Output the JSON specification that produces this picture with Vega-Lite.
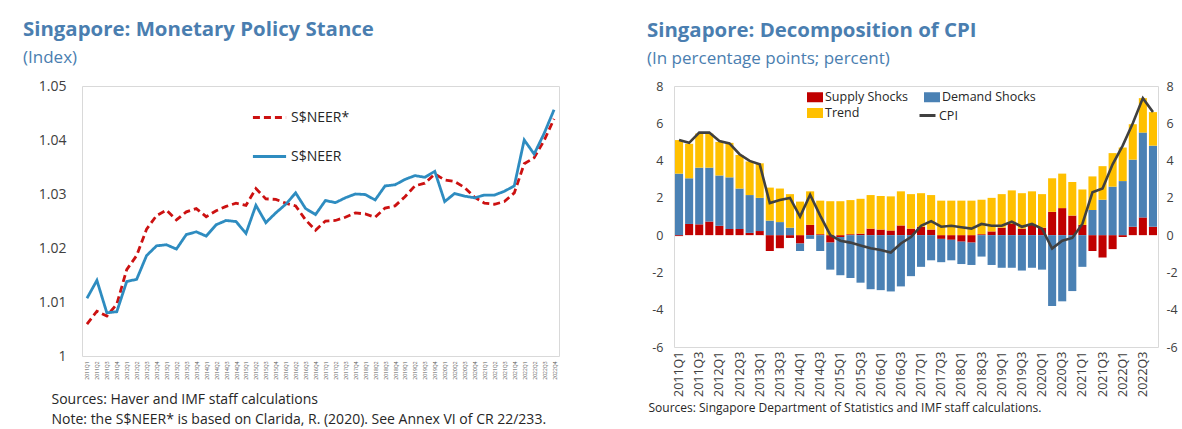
{
  "$schema": "https://vega.github.io/schema/vega-lite/v6.json",
  "background": "white",
  "padding": {"left": 22, "top": 19, "right": 0, "bottom": 0},
  "spacing": 85,
  "resolve": {
    "scale": {"color": "independent", "strokeDash": "independent", "stroke": "independent"},
    "legend": {"color": "independent", "strokeDash": "independent", "stroke": "independent"}
  },
  "config": {
    "font": "Open Sans",
    "view": {"stroke": "#d9d9d9", "strokeWidth": 1},
    "axis": {"grid": false, "domain": false, "ticks": false, "labelColor": "#404040", "labelFont": "Open Sans"},
    "title": {"anchor": "start", "frame": "group", "color": "#4a7eb0", "subtitleColor": "#4a7eb0", "font": "Open Sans", "subtitleFont": "Open Sans", "fontWeight": "bold", "fontSize": 20.4, "subtitleFontSize": 17, "subtitlePadding": 10, "offset": 13}
  },
  "datasets": {
    "neer": [
      {"q":"2011Q1","s":"S$NEER*","v":1.0059},{"q":"2011Q2","s":"S$NEER*","v":1.0083},{"q":"2011Q3","s":"S$NEER*","v":1.0074},{"q":"2011Q4","s":"S$NEER*","v":1.0096},
      {"q":"2012Q1","s":"S$NEER*","v":1.0160},{"q":"2012Q2","s":"S$NEER*","v":1.0186},{"q":"2012Q3","s":"S$NEER*","v":1.0235},{"q":"2012Q4","s":"S$NEER*","v":1.0260},
      {"q":"2013Q1","s":"S$NEER*","v":1.0270},{"q":"2013Q2","s":"S$NEER*","v":1.0252},{"q":"2013Q3","s":"S$NEER*","v":1.0267},{"q":"2013Q4","s":"S$NEER*","v":1.0273},
      {"q":"2014Q1","s":"S$NEER*","v":1.0258},{"q":"2014Q2","s":"S$NEER*","v":1.0269},{"q":"2014Q3","s":"S$NEER*","v":1.0277},{"q":"2014Q4","s":"S$NEER*","v":1.0283},
      {"q":"2015Q1","s":"S$NEER*","v":1.0279},{"q":"2015Q2","s":"S$NEER*","v":1.0310},{"q":"2015Q3","s":"S$NEER*","v":1.0291},{"q":"2015Q4","s":"S$NEER*","v":1.0290},
      {"q":"2016Q1","s":"S$NEER*","v":1.0283},{"q":"2016Q2","s":"S$NEER*","v":1.0278},{"q":"2016Q3","s":"S$NEER*","v":1.0252},{"q":"2016Q4","s":"S$NEER*","v":1.0233},
      {"q":"2017Q1","s":"S$NEER*","v":1.0250},{"q":"2017Q2","s":"S$NEER*","v":1.0251},{"q":"2017Q3","s":"S$NEER*","v":1.0257},{"q":"2017Q4","s":"S$NEER*","v":1.0265},
      {"q":"2018Q1","s":"S$NEER*","v":1.0263},{"q":"2018Q2","s":"S$NEER*","v":1.0257},{"q":"2018Q3","s":"S$NEER*","v":1.0274},{"q":"2018Q4","s":"S$NEER*","v":1.0278},
      {"q":"2019Q1","s":"S$NEER*","v":1.0295},{"q":"2019Q2","s":"S$NEER*","v":1.0315},{"q":"2019Q3","s":"S$NEER*","v":1.0320},{"q":"2019Q4","s":"S$NEER*","v":1.0337},
      {"q":"2020Q1","s":"S$NEER*","v":1.0326},{"q":"2020Q2","s":"S$NEER*","v":1.0323},{"q":"2020Q3","s":"S$NEER*","v":1.0312},{"q":"2020Q4","s":"S$NEER*","v":1.0294},
      {"q":"2021Q1","s":"S$NEER*","v":1.0283},{"q":"2021Q2","s":"S$NEER*","v":1.0281},{"q":"2021Q3","s":"S$NEER*","v":1.0286},{"q":"2021Q4","s":"S$NEER*","v":1.0302},
      {"q":"2022Q1","s":"S$NEER*","v":1.0356},{"q":"2022Q2","s":"S$NEER*","v":1.0367},{"q":"2022Q3","s":"S$NEER*","v":1.0399},{"q":"2022Q4","s":"S$NEER*","v":1.0439},
      {"q":"2011Q1","s":"S$NEER","v":1.0107},{"q":"2011Q2","s":"S$NEER","v":1.0140},{"q":"2011Q3","s":"S$NEER","v":1.0080},{"q":"2011Q4","s":"S$NEER","v":1.0082},
      {"q":"2012Q1","s":"S$NEER","v":1.0138},{"q":"2012Q2","s":"S$NEER","v":1.0142},{"q":"2012Q3","s":"S$NEER","v":1.0186},{"q":"2012Q4","s":"S$NEER","v":1.0204},
      {"q":"2013Q1","s":"S$NEER","v":1.0206},{"q":"2013Q2","s":"S$NEER","v":1.0198},{"q":"2013Q3","s":"S$NEER","v":1.0225},{"q":"2013Q4","s":"S$NEER","v":1.0230},
      {"q":"2014Q1","s":"S$NEER","v":1.0222},{"q":"2014Q2","s":"S$NEER","v":1.0243},{"q":"2014Q3","s":"S$NEER","v":1.0251},{"q":"2014Q4","s":"S$NEER","v":1.0249},
      {"q":"2015Q1","s":"S$NEER","v":1.0227},{"q":"2015Q2","s":"S$NEER","v":1.0279},{"q":"2015Q3","s":"S$NEER","v":1.0247},{"q":"2015Q4","s":"S$NEER","v":1.0265},
      {"q":"2016Q1","s":"S$NEER","v":1.0281},{"q":"2016Q2","s":"S$NEER","v":1.0302},{"q":"2016Q3","s":"S$NEER","v":1.0273},{"q":"2016Q4","s":"S$NEER","v":1.0262},
      {"q":"2017Q1","s":"S$NEER","v":1.0288},{"q":"2017Q2","s":"S$NEER","v":1.0284},{"q":"2017Q3","s":"S$NEER","v":1.0293},{"q":"2017Q4","s":"S$NEER","v":1.0300},
      {"q":"2018Q1","s":"S$NEER","v":1.0299},{"q":"2018Q2","s":"S$NEER","v":1.0289},{"q":"2018Q3","s":"S$NEER","v":1.0315},{"q":"2018Q4","s":"S$NEER","v":1.0317},
      {"q":"2019Q1","s":"S$NEER","v":1.0327},{"q":"2019Q2","s":"S$NEER","v":1.0334},{"q":"2019Q3","s":"S$NEER","v":1.0331},{"q":"2019Q4","s":"S$NEER","v":1.0342},
      {"q":"2020Q1","s":"S$NEER","v":1.0286},{"q":"2020Q2","s":"S$NEER","v":1.0301},{"q":"2020Q3","s":"S$NEER","v":1.0296},{"q":"2020Q4","s":"S$NEER","v":1.0293},
      {"q":"2021Q1","s":"S$NEER","v":1.0298},{"q":"2021Q2","s":"S$NEER","v":1.0298},{"q":"2021Q3","s":"S$NEER","v":1.0305},{"q":"2021Q4","s":"S$NEER","v":1.0315},
      {"q":"2022Q1","s":"S$NEER","v":1.0400},{"q":"2022Q2","s":"S$NEER","v":1.0374},{"q":"2022Q3","s":"S$NEER","v":1.0412},{"q":"2022Q4","s":"S$NEER","v":1.0456}
    ],
    "bars": [
      {"q":"2011Q1","c":"Supply Shocks","v":-0.05},{"q":"2011Q1","c":"Demand Shocks","v":3.3},{"q":"2011Q1","c":"Trend","v":1.8},
      {"q":"2011Q2","c":"Supply Shocks","v":0.6},{"q":"2011Q2","c":"Demand Shocks","v":2.45},{"q":"2011Q2","c":"Trend","v":1.85},
      {"q":"2011Q3","c":"Supply Shocks","v":0.58},{"q":"2011Q3","c":"Demand Shocks","v":3.04},{"q":"2011Q3","c":"Trend","v":1.83},
      {"q":"2011Q4","c":"Supply Shocks","v":0.73},{"q":"2011Q4","c":"Demand Shocks","v":2.89},{"q":"2011Q4","c":"Trend","v":1.83},
      {"q":"2012Q1","c":"Supply Shocks","v":0.5},{"q":"2012Q1","c":"Demand Shocks","v":2.7},{"q":"2012Q1","c":"Trend","v":1.8},
      {"q":"2012Q2","c":"Supply Shocks","v":0.33},{"q":"2012Q2","c":"Demand Shocks","v":2.77},{"q":"2012Q2","c":"Trend","v":1.85},
      {"q":"2012Q3","c":"Supply Shocks","v":0.33},{"q":"2012Q3","c":"Demand Shocks","v":2.17},{"q":"2012Q3","c":"Trend","v":1.8},
      {"q":"2012Q4","c":"Supply Shocks","v":0.12},{"q":"2012Q4","c":"Demand Shocks","v":2.03},{"q":"2012Q4","c":"Trend","v":1.8},
      {"q":"2013Q1","c":"Supply Shocks","v":0.22},{"q":"2013Q1","c":"Demand Shocks","v":1.78},{"q":"2013Q1","c":"Trend","v":1.85},
      {"q":"2013Q2","c":"Supply Shocks","v":-0.85},{"q":"2013Q2","c":"Demand Shocks","v":0.78},{"q":"2013Q2","c":"Trend","v":1.77},
      {"q":"2013Q3","c":"Supply Shocks","v":-0.7},{"q":"2013Q3","c":"Demand Shocks","v":0.7},{"q":"2013Q3","c":"Trend","v":1.8},
      {"q":"2013Q4","c":"Supply Shocks","v":-0.15},{"q":"2013Q4","c":"Demand Shocks","v":0.4},{"q":"2013Q4","c":"Trend","v":1.8},
      {"q":"2014Q1","c":"Supply Shocks","v":-0.45},{"q":"2014Q1","c":"Demand Shocks","v":-0.4},{"q":"2014Q1","c":"Trend","v":1.8},
      {"q":"2014Q2","c":"Supply Shocks","v":0.55},{"q":"2014Q2","c":"Demand Shocks","v":-0.2},{"q":"2014Q2","c":"Trend","v":1.8},
      {"q":"2014Q3","c":"Supply Shocks","v":0.05},{"q":"2014Q3","c":"Demand Shocks","v":-0.85},{"q":"2014Q3","c":"Trend","v":1.8},
      {"q":"2014Q4","c":"Supply Shocks","v":-0.4},{"q":"2014Q4","c":"Demand Shocks","v":-1.45},{"q":"2014Q4","c":"Trend","v":1.82},
      {"q":"2015Q1","c":"Supply Shocks","v":-0.1},{"q":"2015Q1","c":"Demand Shocks","v":-2.05},{"q":"2015Q1","c":"Trend","v":1.82},
      {"q":"2015Q2","c":"Supply Shocks","v":0.05},{"q":"2015Q2","c":"Demand Shocks","v":-2.3},{"q":"2015Q2","c":"Trend","v":1.83},
      {"q":"2015Q3","c":"Supply Shocks","v":0.08},{"q":"2015Q3","c":"Demand Shocks","v":-2.55},{"q":"2015Q3","c":"Trend","v":1.87},
      {"q":"2015Q4","c":"Supply Shocks","v":0.35},{"q":"2015Q4","c":"Demand Shocks","v":-2.9},{"q":"2015Q4","c":"Trend","v":1.8},
      {"q":"2016Q1","c":"Supply Shocks","v":0.3},{"q":"2016Q1","c":"Demand Shocks","v":-2.95},{"q":"2016Q1","c":"Trend","v":1.8},
      {"q":"2016Q2","c":"Supply Shocks","v":0.25},{"q":"2016Q2","c":"Demand Shocks","v":-3.02},{"q":"2016Q2","c":"Trend","v":1.83},
      {"q":"2016Q3","c":"Supply Shocks","v":0.52},{"q":"2016Q3","c":"Demand Shocks","v":-2.75},{"q":"2016Q3","c":"Trend","v":1.83},
      {"q":"2016Q4","c":"Supply Shocks","v":0.35},{"q":"2016Q4","c":"Demand Shocks","v":-2.2},{"q":"2016Q4","c":"Trend","v":1.85},
      {"q":"2017Q1","c":"Supply Shocks","v":0.45},{"q":"2017Q1","c":"Demand Shocks","v":-1.7},{"q":"2017Q1","c":"Trend","v":1.8},
      {"q":"2017Q2","c":"Supply Shocks","v":0.3},{"q":"2017Q2","c":"Demand Shocks","v":-1.35},{"q":"2017Q2","c":"Trend","v":1.85},
      {"q":"2017Q3","c":"Supply Shocks","v":-0.2},{"q":"2017Q3","c":"Demand Shocks","v":-1.25},{"q":"2017Q3","c":"Trend","v":1.85},
      {"q":"2017Q4","c":"Supply Shocks","v":-0.25},{"q":"2017Q4","c":"Demand Shocks","v":-1.1},{"q":"2017Q4","c":"Trend","v":1.85},
      {"q":"2018Q1","c":"Supply Shocks","v":-0.35},{"q":"2018Q1","c":"Demand Shocks","v":-1.2},{"q":"2018Q1","c":"Trend","v":1.85},
      {"q":"2018Q2","c":"Supply Shocks","v":-0.4},{"q":"2018Q2","c":"Demand Shocks","v":-1.2},{"q":"2018Q2","c":"Trend","v":1.85},
      {"q":"2018Q3","c":"Supply Shocks","v":0.05},{"q":"2018Q3","c":"Demand Shocks","v":-1.15},{"q":"2018Q3","c":"Trend","v":1.85},
      {"q":"2018Q4","c":"Supply Shocks","v":0.2},{"q":"2018Q4","c":"Demand Shocks","v":-1.6},{"q":"2018Q4","c":"Trend","v":1.8},
      {"q":"2019Q1","c":"Supply Shocks","v":0.4},{"q":"2019Q1","c":"Demand Shocks","v":-1.75},{"q":"2019Q1","c":"Trend","v":1.8},
      {"q":"2019Q2","c":"Supply Shocks","v":0.6},{"q":"2019Q2","c":"Demand Shocks","v":-1.75},{"q":"2019Q2","c":"Trend","v":1.8},
      {"q":"2019Q3","c":"Supply Shocks","v":0.35},{"q":"2019Q3","c":"Demand Shocks","v":-1.9},{"q":"2019Q3","c":"Trend","v":1.9},
      {"q":"2019Q4","c":"Supply Shocks","v":0.55},{"q":"2019Q4","c":"Demand Shocks","v":-1.75},{"q":"2019Q4","c":"Trend","v":1.8},
      {"q":"2020Q1","c":"Supply Shocks","v":0.4},{"q":"2020Q1","c":"Demand Shocks","v":-1.85},{"q":"2020Q1","c":"Trend","v":1.8},
      {"q":"2020Q2","c":"Supply Shocks","v":1.25},{"q":"2020Q2","c":"Demand Shocks","v":-3.8},{"q":"2020Q2","c":"Trend","v":1.8},
      {"q":"2020Q3","c":"Supply Shocks","v":1.45},{"q":"2020Q3","c":"Demand Shocks","v":-3.55},{"q":"2020Q3","c":"Trend","v":1.85},
      {"q":"2020Q4","c":"Supply Shocks","v":1.05},{"q":"2020Q4","c":"Demand Shocks","v":-3.0},{"q":"2020Q4","c":"Trend","v":1.8},
      {"q":"2021Q1","c":"Supply Shocks","v":0.55},{"q":"2021Q1","c":"Demand Shocks","v":-1.7},{"q":"2021Q1","c":"Trend","v":1.9},
      {"q":"2021Q2","c":"Supply Shocks","v":-0.85},{"q":"2021Q2","c":"Demand Shocks","v":1.35},{"q":"2021Q2","c":"Trend","v":1.8},
      {"q":"2021Q3","c":"Supply Shocks","v":-1.2},{"q":"2021Q3","c":"Demand Shocks","v":1.9},{"q":"2021Q3","c":"Trend","v":1.8},
      {"q":"2021Q4","c":"Supply Shocks","v":-0.75},{"q":"2021Q4","c":"Demand Shocks","v":2.6},{"q":"2021Q4","c":"Trend","v":1.8},
      {"q":"2022Q1","c":"Supply Shocks","v":-0.1},{"q":"2022Q1","c":"Demand Shocks","v":2.9},{"q":"2022Q1","c":"Trend","v":1.8},
      {"q":"2022Q2","c":"Supply Shocks","v":0.45},{"q":"2022Q2","c":"Demand Shocks","v":3.6},{"q":"2022Q2","c":"Trend","v":1.9},
      {"q":"2022Q3","c":"Supply Shocks","v":0.95},{"q":"2022Q3","c":"Demand Shocks","v":4.55},{"q":"2022Q3","c":"Trend","v":1.85},
      {"q":"2022Q4","c":"Supply Shocks","v":0.45},{"q":"2022Q4","c":"Demand Shocks","v":4.35},{"q":"2022Q4","c":"Trend","v":1.8}
    ],
    "cpi": [
      {"q":"2011Q1","v":5.1},{"q":"2011Q2","v":4.95},{"q":"2011Q3","v":5.5},{"q":"2011Q4","v":5.5},
      {"q":"2012Q1","v":5.05},{"q":"2012Q2","v":4.92},{"q":"2012Q3","v":4.34},{"q":"2012Q4","v":3.98},
      {"q":"2013Q1","v":3.8},{"q":"2013Q2","v":1.72},{"q":"2013Q3","v":1.88},{"q":"2013Q4","v":2.0},
      {"q":"2014Q1","v":1.0},{"q":"2014Q2","v":2.17},{"q":"2014Q3","v":1.05},{"q":"2014Q4","v":0.0},
      {"q":"2015Q1","v":-0.3},{"q":"2015Q2","v":-0.4},{"q":"2015Q3","v":-0.55},{"q":"2015Q4","v":-0.7},
      {"q":"2016Q1","v":-0.8},{"q":"2016Q2","v":-0.93},{"q":"2016Q3","v":-0.45},{"q":"2016Q4","v":-0.1},
      {"q":"2017Q1","v":0.5},{"q":"2017Q2","v":0.75},{"q":"2017Q3","v":0.45},{"q":"2017Q4","v":0.5},
      {"q":"2018Q1","v":0.42},{"q":"2018Q2","v":0.35},{"q":"2018Q3","v":0.6},{"q":"2018Q4","v":0.5},
      {"q":"2019Q1","v":0.5},{"q":"2019Q2","v":0.72},{"q":"2019Q3","v":0.45},{"q":"2019Q4","v":0.6},
      {"q":"2020Q1","v":0.35},{"q":"2020Q2","v":-0.72},{"q":"2020Q3","v":-0.3},{"q":"2020Q4","v":-0.15},
      {"q":"2021Q1","v":0.6},{"q":"2021Q2","v":2.3},{"q":"2021Q3","v":2.5},{"q":"2021Q4","v":3.8},
      {"q":"2022Q1","v":4.8},{"q":"2022Q2","v":6.0},{"q":"2022Q3","v":7.35},{"q":"2022Q4","v":6.6}
    ]
  },
  "hconcat": [
    {
      "width": 477,
      "height": 270,
      "title": {"text": "Singapore: Monetary Policy Stance", "subtitle": "(Index)", "dx": -59},
      "data": {"name": "neer"},
      "mark": {"type": "line", "strokeWidth": 2.8},
      "encoding": {
        "x": {
          "field": "q", "type": "ordinal",
          "scale": {"type": "point", "padding": 0.5},
          "axis": {
            "labelAngle": -90, "labelFontSize": 5, "labelPadding": 5, "labelColor": "#595959",
            "title": ["Sources: Haver and IMF staff calculations", "Note: the S$NEER* is based on Clarida, R. (2020). See Annex VI of CR 22/233."],
            "titleFont": "Open Sans", "titleFontSize": 14, "titleFontWeight": "normal", "titleColor": "#262626",
            "titleX": -31, "titleY": 36, "titleAlign": "left", "titleAnchor": "start", "titleBaseline": "top", "titleLineHeight": 20
          }
        },
        "y": {
          "field": "v", "type": "quantitative",
          "scale": {"domain": [1, 1.05], "zero": false, "nice": false},
          "axis": {"values": [1, 1.01, 1.02, 1.03, 1.04, 1.05], "format": ".2~f", "labelFontSize": 14, "labelPadding": 16, "title": null}
        },
        "color": {
          "field": "s", "type": "nominal",
          "scale": {"domain": ["S$NEER*", "S$NEER"], "range": ["#cc1111", "#2e8cc0"]},
          "legend": {"orient": "none", "legendX": 169, "legendY": 13, "title": null, "symbolType": "stroke", "symbolSize": 1100, "symbolStrokeWidth": 3, "labelFontSize": 14, "labelColor": "#262626", "rowPadding": 13, "labelOffset": 3, "padding": 0}
        },
        "strokeDash": {
          "field": "s", "type": "nominal",
          "scale": {"domain": ["S$NEER*", "S$NEER"], "range": [[7, 4], [1, 0]]},
          "legend": {"orient": "none", "legendX": 169, "legendY": 13, "title": null, "symbolType": "stroke", "symbolSize": 1100, "symbolStrokeWidth": 3, "labelFontSize": 14, "labelColor": "#262626", "rowPadding": 13, "labelOffset": 3, "padding": 0}
        }
      }
    },
    {
      "width": 484,
      "height": 261,
      "title": {"text": "Singapore: Decomposition of CPI", "subtitle": "(In percentage points; percent)", "dx": -27},
      "layer": [
        {
          "data": {"name": "bars"},
          "transform": [{"calculate": "indexof(['Supply Shocks','Demand Shocks','Trend'], datum.c)", "as": "o"}],
          "mark": {"type": "bar"},
          "encoding": {
            "x": {
              "field": "q", "type": "ordinal",
              "scale": {"paddingInner": 0.2, "paddingOuter": 0.1},
              "axis": {
                "labelAngle": -90, "labelFontSize": 12.5, "labelPadding": 4, "labelColor": "#404040",
                "labelExpr": "indexof(datum.label, 'Q1') >= 0 || indexof(datum.label, 'Q3') >= 0 ? datum.label : ''",
                "title": "Sources: Singapore Department of Statistics and IMF staff calculations.",
                "titleFont": "Open Sans", "titleFontSize": 12, "titleFontWeight": "normal", "titleColor": "#262626",
                "titleX": -26, "titleY": 55, "titleAlign": "left", "titleAnchor": "start", "titleBaseline": "top"
              }
            },
            "y": {
              "field": "v", "type": "quantitative", "stack": "zero",
              "scale": {"domain": [-6, 8], "nice": false},
              "axis": {"values": [-6, -4, -2, 0, 2, 4, 6, 8], "labelExpr": "'' + datum.value", "labelFontSize": 12.5, "labelPadding": 11, "title": null}
            },
            "color": {
              "field": "c", "type": "nominal",
              "scale": {"domain": ["Supply Shocks", "Demand Shocks", "Trend"], "range": ["#c00000", "#4a81b4", "#ffc000"]},
              "legend": {"orient": "none", "legendX": 133, "legendY": 3, "title": null, "direction": "horizontal", "columns": 2, "columnPadding": 15, "rowPadding": 1, "symbolType": "M-1,-0.625H1V0.625H-1Z", "symbolSize": 256, "symbolStrokeWidth": 0, "labelFontSize": 12.5, "labelColor": "#262626", "labelOffset": 2, "padding": 0}
            },
            "order": {"field": "o", "type": "quantitative"}
          }
        },
        {
          "data": {"name": "cpi"},
          "mark": {"type": "line", "strokeWidth": 2.6},
          "encoding": {
            "x": {
              "field": "q", "type": "ordinal",
              "axis": {
                "labelAngle": -90, "labelFontSize": 12.5, "labelPadding": 4, "labelColor": "#404040",
                "labelExpr": "indexof(datum.label, 'Q1') >= 0 || indexof(datum.label, 'Q3') >= 0 ? datum.label : ''",
                "title": "Sources: Singapore Department of Statistics and IMF staff calculations.",
                "titleFont": "Open Sans", "titleFontSize": 12, "titleFontWeight": "normal", "titleColor": "#262626",
                "titleX": -26, "titleY": 55, "titleAlign": "left", "titleAnchor": "start", "titleBaseline": "top"
              }
            },
            "y": {
              "field": "v", "type": "quantitative",
              "scale": {"domain": [-6, 8], "nice": false},
              "axis": {"orient": "right", "values": [-6, -4, -2, 0, 2, 4, 6, 8], "labelExpr": "'' + datum.value", "labelFontSize": 12.5, "labelPadding": 8, "title": null}
            },
            "stroke": {
              "datum": "CPI", "type": "nominal",
              "scale": {"domain": ["CPI"], "range": ["#404040"]},
              "legend": {"orient": "none", "legendX": 244, "legendY": 20, "title": null, "symbolType": "stroke", "symbolSize": 256, "symbolStrokeWidth": 3, "labelFontSize": 12.5, "labelColor": "#262626", "labelOffset": 2, "padding": 0}
            }
          }
        }
      ],
      "resolve": {"scale": {"y": "independent"}}
    }
  ]
}
